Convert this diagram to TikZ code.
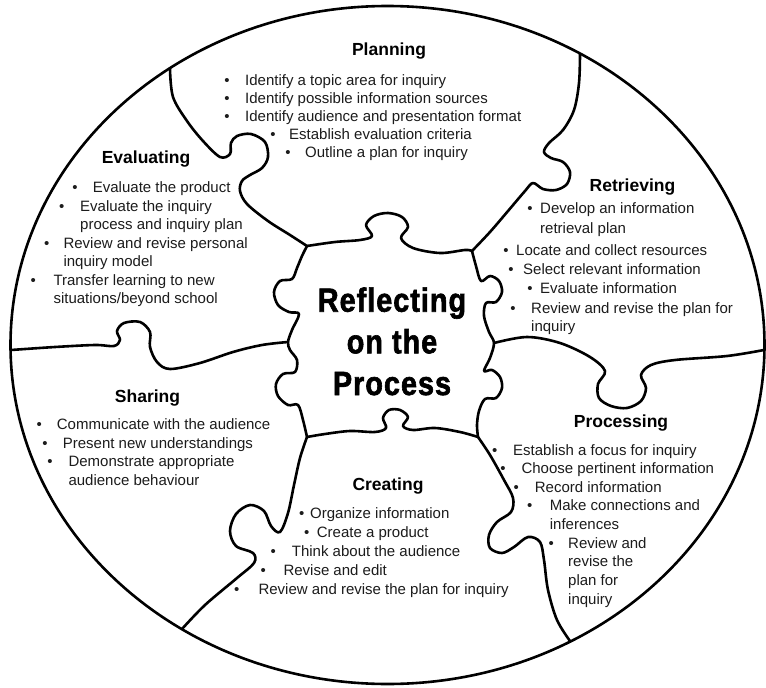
\documentclass[tikz,border=0pt]{standalone}
\usepackage{fontspec}
\setmainfont{Liberation Sans}
\newfontfamily\titlefont[FakeStretch=0.86,LetterSpace=3,FakeBold=1.8]{Liberation Sans}
\definecolor{txtc}{RGB}{28,28,28}
\tikzset{
 puz/.style={line width=2.6pt, line join=round, line cap=round, draw=black},
 txt/.style={anchor=base west, inner sep=0pt, font=\fontsize{15}{18}\selectfont, text=txtc},
 bul/.style={anchor=base, inner sep=0pt, font=\fontsize{15}{18}\selectfont, text=txtc},
 head/.style={anchor=base, inner sep=0pt, font=\fontsize{17.5}{21}\selectfont\bfseries, text=black},
 ttl/.style={anchor=base, inner sep=0pt, font=\titlefont\bfseries\fontsize{33.5}{40}\selectfont, text=black},
}
\newcommand\bitem[5]{\node[bul] (#1b) at (#2,#4) {\textbullet};\node[txt] (#1) at (#3,#4) {#5};}
\newcommand\litem[4]{\node[txt] (#1) at (#2,#3) {#4};}
\begin{document}
\begin{tikzpicture}[x=1pt,y=-1pt]
\useasboundingbox[fill=white] (0,0) rectangle (766,688);
% corners of the centre piece and junctions
\coordinate (TL) at (307,246);
\coordinate (TR) at (472,251);
\coordinate (BR) at (478,437);
\coordinate (BL) at (307,437);
\coordinate (JL) at (288,342);
\coordinate (JR) at (494,343);
\coordinate (C1) at (170,69);
\coordinate (C2) at (580,54);
\coordinate (C3) at (11,350);
\coordinate (C4) at (764,350);
\coordinate (C5) at (182,629);
\coordinate (C6) at (570,641);
% outer circle
\draw[puz] (387.5,345) ellipse [x radius=377pt, y radius=339pt];
% centre piece
\draw[puz] plot[smooth, tension=0.55] coordinates {(TL) (335,242) (360,240) (372,236) (366,225) (374,216) (388,213) (402,217) (408,227) (401,238) (413,248) (440,253) (465,250) (TR)};
\draw[puz] plot[smooth, tension=0.55] coordinates {(TR) (476,266) (481,281) (490,276) (499,281) (502,292) (496,302) (486,303) (484,316) (489,332) (JR) (490,358) (484,371) (492,370) (500,377) (502,388) (496,398) (485,399) (479,411) (477,425) (BR)};
\draw[puz] plot[smooth, tension=0.55] coordinates {(BR) (460,432) (435,428) (413,430) (403,426) (408,417) (400,410) (389,410) (383,418) (386,428) (375,432) (350,431) (325,434) (BL)};
\draw[puz] plot[smooth, tension=0.55] coordinates {(BL) (303,420) (298,405) (288,405) (278,396) (276,384) (283,374) (295,372) (297,360) (290,350) (JL) (292,330) (299,314) (289,312) (278,305) (274,292) (280,281) (292,279) (297,268) (302,256) (TL)};
% spokes
\draw[puz] plot[smooth, tension=0.55] coordinates {(C1) (173,97) (187,121) (203,141) (220,157) (230,154) (231,143) (237,136) (251,134) (265,142) (268,157) (262,168) (250,175) (242,181) (240,191) (247,204) (268,221) (290,235) (TL)};
\draw[puz] plot[smooth, tension=0.55] coordinates {(C2) (579,83) (574,110) (563,130) (549,143) (544,152) (551,158) (563,162) (570,172) (567,184) (556,190) (543,189) (533,183) (525,191) (508,211) (490,232) (TR)};
\draw[puz] plot[smooth, tension=0.55] coordinates {(C3) (55,347) (95,345) (114,346) (120,340) (117,331) (124,323) (140,322) (150,332) (150,347) (157,362) (170,369) (200,363) (233,352) (262,345) (JL)};
\draw[puz] plot[smooth, tension=0.55] coordinates {(JR) (527,337) (560,343) (590,357) (605,371) (598,384) (599,398) (611,406) (627,408) (641,401) (646,388) (641,375) (651,365) (675,360) (727,356) (C4)};
\draw[puz] plot[smooth, tension=0.55] coordinates {(BL) (300,458) (294,485) (288,513) (280,532) (271,526) (264,511) (250,505) (236,514) (230,531) (236,546) (253,553) (254,563) (237,578) (205,605) (C5)};
\draw[puz] plot[smooth, tension=0.55] coordinates {(BR) (490,455) (504,480) (513,498) (511,512) (497,522) (489,535) (490,548) (502,553) (514,547) (528,537) (540,542) (544,560) (548,590) (557,620) (C6)};
% title
\node[ttl] (t1) at (392,311.7) {Reflecting};
\node[ttl] (t2) at (392,353.3) {on the};
\node[ttl] (t3) at (392,395) {Process};
% Planning
\node[head] (hp) at (389,55) {Planning};
\bitem{p1}{227}{245}{85.5}{Identify a topic area for inquiry}
\bitem{p2}{227}{245}{103.5}{Identify possible information sources}
\bitem{p3}{227}{245}{121.5}{Identify audience and presentation format}
\bitem{p4}{273}{289}{139.5}{Establish evaluation criteria}
\bitem{p5}{288}{305}{157.5}{Outline a plan for inquiry}
% Evaluating
\node[head] (he) at (146,163) {Evaluating};
\bitem{e1}{75}{92.7}{192.5}{Evaluate the product}
\bitem{e2}{61.7}{80}{211}{Evaluate the inquiry}
\litem{e3}{80}{229.5}{process and inquiry plan}
\bitem{e4}{46.7}{63.3}{248}{Review and revise personal}
\litem{e5}{63.3}{266.5}{inquiry model}
\bitem{e6}{33.3}{53.3}{285}{Transfer learning to new}
\litem{e7}{53.3}{303.5}{situations/beyond school}
% Retrieving
\node[head] (hr) at (632.5,191.5) {Retrieving};
\bitem{r1}{530}{540}{213.5}{Develop an information}
\litem{r2}{540}{233}{retrieval plan}
\bitem{r3}{506}{516}{255}{Locate and collect resources}
\bitem{r4}{511}{523}{274}{Select relevant information}
\bitem{r5}{530}{540}{293}{Evaluate information}
\bitem{r6}{513}{531}{313}{Review and revise the plan for}
\litem{r7}{531}{331.5}{inquiry}
% Sharing
\node[head] (hs) at (147.5,402) {Sharing};
\bitem{s1}{39.3}{56.7}{429.5}{Communicate with the audience}
\bitem{s2}{45}{62.7}{448}{Present new understandings}
\bitem{s3}{50}{68.3}{466.7}{Demonstrate appropriate}
\litem{s4}{68.3}{485.5}{audience behaviour}
% Creating
\node[head] (hc) at (388,490.5) {Creating};
\bitem{c1}{301.7}{310}{518}{Organize information}
\bitem{c2}{306.7}{316.7}{537}{Create a product}
\bitem{c3}{273.3}{291.7}{556}{Think about the audience}
\bitem{c4}{263.3}{283.3}{575}{Revise and edit}
\bitem{c5}{236.7}{258.3}{594}{Review and revise the plan for inquiry}
% Processing
\node[head] (hq) at (621,427.5) {Processing};
\bitem{q1}{494.7}{513}{455}{Establish a focus for inquiry}
\bitem{q2}{503}{521.3}{473.5}{Choose pertinent information}
\bitem{q3}{516.3}{534.7}{492}{Record information}
\bitem{q4}{529.7}{549.7}{510.7}{Make connections and}
\litem{q5}{549.7}{529.3}{inferences}
\bitem{q6}{551.3}{568}{548}{Review and}
\litem{q7}{568}{566.7}{revise the}
\litem{q8}{568}{585.7}{plan for}
\litem{q9}{568}{604.3}{inquiry}
\end{tikzpicture}
\end{document}
